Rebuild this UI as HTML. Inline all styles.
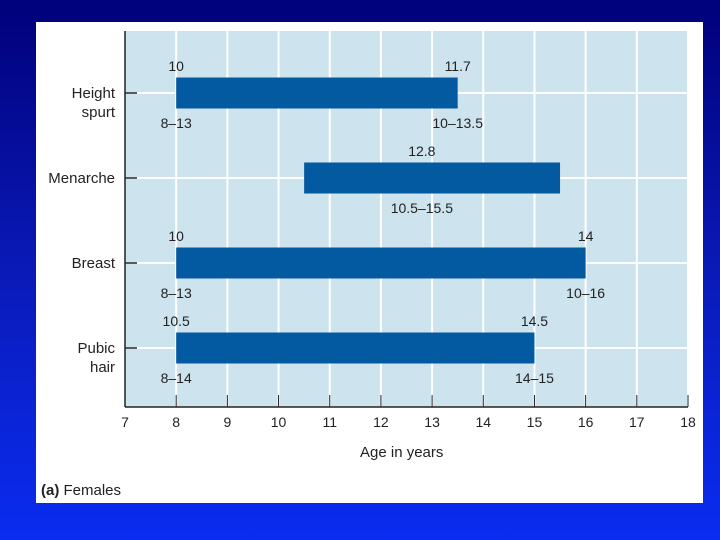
<!DOCTYPE html>
<html><head><meta charset="utf-8"><style>
html,body{margin:0;width:720px;height:540px;overflow:hidden;}
body{background:linear-gradient(180deg,#00007a 0%,#0a1ab8 50%,#0a2cf0 100%);font-family:"Liberation Sans",sans-serif;}
svg{display:block;}
svg text{font-family:"Liberation Sans",sans-serif;fill:#222;}
</style></head><body>
<svg width="720" height="540">
<rect x="36" y="22" width="667" height="481" fill="#fff"/>
<rect x="125" y="31" width="563" height="376" fill="#cde3ee"/>
<g id="grid"></g><g id="bars"></g><g id="axes"></g>
<text x="360" y="457" font-size="15">Age in years</text>
<text x="41" y="495" font-size="15"><tspan font-weight="bold">(a)</tspan>  Females</text>
</svg>
<script>
const categories=[["Height","spurt"],["Menarche"],["Breast"],["Pubic","hair"]];
const starts=[8,10.5,8,8];
const ends=[13.5,15.5,16,15];
const topLabels=["10","12.8","10","10.5"];
const topRightLabels=["11.7","","14","14.5"];
const leftLabels=["8–13","","8–13","8–14"];
const rightLabels=["10–13.5","10.5–15.5","10–16","14–15"];
const ticks=[7,8,9,10,11,12,13,14,15,16,17,18];
const X=v=>125+(v-7)*(563/11);
const catY=[93,178,263,348];
const NS="http://www.w3.org/2000/svg";
function mk(p,t,a,txt){const e=document.createElementNS(NS,t);for(const k in a)e.setAttribute(k,a[k]);if(txt!==undefined)e.textContent=txt;document.getElementById(p).appendChild(e);return e;}
ticks.forEach(t=>{
 if(t>7){const g=mk("grid","line",{x1:X(t),x2:X(t),y1:31,y2:407,stroke:"#fff","stroke-width":2});
 
 }
 const tk=mk("axes","line",{x1:X(t),x2:X(t),y1:395,y2:407,stroke:"#222","stroke-width":1});
 
 
 const l=mk("axes","text",{x:X(t),y:427,"font-size":14,"text-anchor":"middle"},String(t));
 
 
});
mk("axes","line",{x1:125,x2:125,y1:31,y2:407,stroke:"#222","stroke-width":1.5});
mk("axes","line",{x1:125,x2:688,y1:407,y2:407,stroke:"#222","stroke-width":1.5});
categories.forEach((c,i)=>{
 const y=catY[i];
 const gl=mk("grid","line",{x1:125,x2:688,y1:y,y2:y,stroke:"#fff","stroke-width":2});
 
 
 mk("axes","line",{x1:125,x2:137,y1:y,y2:y,stroke:"#222","stroke-width":1.5});
 const b=mk("bars","rect",{x:X(starts[i]),y:y-15.5,width:X(ends[i])-X(starts[i]),height:31,fill:"#045aa0"});
 
 
 c.forEach((ln,j)=>{const t=mk("axes","text",{x:115,y:y+5+j*19,"font-size":15,"text-anchor":"end"},ln);
 
 });
 const addL=(txt,x,yy)=>{if(!txt)return;const t=mk("bars","text",{x:x,y:yy,"font-size":14,"text-anchor":"middle"},txt);
 
 };
 const mid=i==1;
 addL(topLabels[i],mid?X(12.8):X(starts[i]),y-22);
 addL(topRightLabels[i],X(ends[i]),y-22);
 addL(leftLabels[i],X(starts[i]),y+35);
 addL(rightLabels[i],mid?X(12.8):X(ends[i]),y+35);
});
</script>
</body></html>
